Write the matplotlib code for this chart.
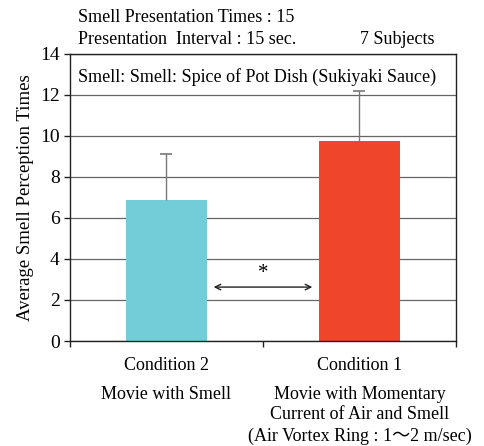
import matplotlib
matplotlib.use("Agg")
import matplotlib.pyplot as plt
from matplotlib.ticker import FixedLocator

plt.rcParams['font.family'] = ['Liberation Serif', 'Noto Sans CJK JP', 'DejaVu Sans']

categories = ["Condition 2", "Condition 1"]
descriptions = ["Movie with Smell",
                "Movie with Momentary\nCurrent of Air and Smell\n(Air Vortex Ring : 1\u301c2 m/sec)"]
means = [6.88, 9.75]
err_top = [9.1, 12.2]
colors = ["#72CDD8", "#EF452B"]
yticks = [0, 2, 4, 6, 8, 10, 12, 14]

FS = 13

fig = plt.figure(figsize=(4.84, 4.46), dpi=100)
ax = fig.add_axes([0.1446, 0.2354, 0.7975, 0.6437])

x = list(range(len(categories)))
ax.bar(x, means, width=0.42, color=colors, zorder=2)
ax.vlines(x, means, err_top, color='#777777', linewidth=1.0, zorder=3)
ax.plot(x, err_top, linestyle='none', marker='_', markersize=8, markeredgewidth=1.2,
        color='#777777', zorder=3)

ax.set_xlim(-0.5, 1.5)
ax.set_ylim(0, 14)
ax.set_yticks(yticks)
ax.yaxis.grid(True, color='#666666', linewidth=0.9, zorder=0)
ax.set_axisbelow(True)
ax.xaxis.set_major_locator(FixedLocator([-0.5, 0.5, 1.5]))
ax.set_xticklabels([])
ax.tick_params(axis='both', direction='out', length=4, width=1, labelsize=14, color='#222222')
for s in ax.spines.values():
    s.set_linewidth(1.0)
    s.set_color('#222222')
ax.set_ylabel("Average Smell Perception Times", fontsize=13.5, labelpad=4)

trans = ax.get_xaxis_transform()
for xi, c, d in zip(x, categories, descriptions):
    ax.text(xi, -0.055, c, transform=trans, ha='center', va='top', fontsize=FS)
    ax.text(xi, -0.155, d, transform=trans, ha='center', va='top', fontsize=FS,
            linespacing=1.3)

ax.annotate("", xy=(0.23, 2.63), xytext=(0.77, 2.63),
            arrowprops=dict(arrowstyle='<->', color='#222222', lw=1.0))
ax.text(0.5, 3.3, "*", ha='center', va='center', fontsize=15)

ax.text(0.02, 0.95, "Smell: Smell: Spice of Pot Dish (Sukiyaki Sauce)", transform=ax.transAxes,
        ha='left', va='top', fontsize=FS)

fig.text(78/484, 1 - 17/446, "Smell Presentation Times : 15", ha='left', va='center', fontsize=FS)
fig.text(78/484, 1 - 40/446, "Presentation  Interval : 15 sec.", ha='left', va='center', fontsize=FS)
fig.text(435/484, 1 - 40/446, "7 Subjects", ha='right', va='center', fontsize=FS)

fig.savefig("out.png", dpi=100)
